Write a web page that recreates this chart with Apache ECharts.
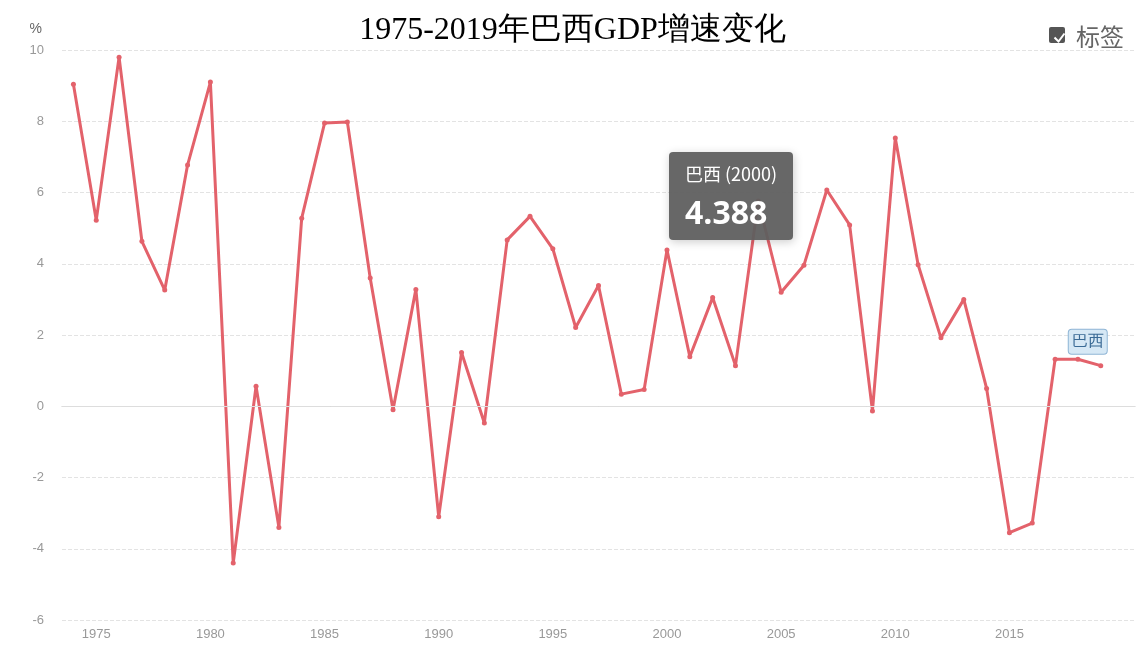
<!DOCTYPE html>
<html><head><meta charset="utf-8">
<script src="https://cdn.jsdelivr.net/npm/echarts@6/dist/echarts.min.js"></script>
<style>html,body{margin:0;padding:0;background:#fff}#c{width:1145px;height:669px}</style>
</head><body><div id="c"></div>
<script>
// 年份与巴西GDP增速(%)，坐标轴多留一年空位
var years = [];
for (var y = 1974; y <= 2020; y++) years.push(String(y));
var gdp = [9.04, 5.22, 9.8, 4.63, 3.26, 6.77, 9.1, -4.4, 0.56, -3.4,
  5.28, 7.95, 7.98, 3.6, -0.1, 3.28, -3.1, 1.51, -0.47, 4.67,
  5.33, 4.42, 2.21, 3.39, 0.34, 0.47, 4.388, 1.39, 3.05, 1.14,
  5.76, 3.2, 3.96, 6.07, 5.09, -0.13, 7.53, 3.97, 1.92, 3.0,
  0.5, -3.55, -3.28, 1.32, 1.32, 1.14];

var chart = echarts.init(document.getElementById('c'));
var option = {
  animation: false,
  title: {
    text: '1975-2019年巴西GDP增速变化',
    left: 'center', top: 10,
    textStyle: { fontFamily: 'serif', fontSize: 32, fontWeight: 'normal', color: '#000' }
  },
  grid: { left: 62, right: 10, top: 50, bottom: 49 },
  tooltip: {
    trigger: 'item',
    backgroundColor: 'rgba(95,95,95,0.95)',
    borderWidth: 0,
    padding: [6, 16, 4, 16],
    position: function () { return [669, 152]; },
    formatter: function (p) {
      return '<div style="color:#fff;font-size:18px;line-height:30px;font-family:Noto Sans CJK SC">巴西 (' + p.name + ')</div>' +
        '<div style="color:#fff;font-size:32px;line-height:48px;font-weight:bold;font-family:Open Sans">' + p.value + '</div>';
    }
  },
  xAxis: {
    type: 'category',
    data: years,
    axisLine: { lineStyle: { color: '#ccc' } },
    axisTick: { alignWithLabel: true, interval: function (i, v) { return v % 5 === 0; }, lineStyle: { color: '#ccc' } },
    axisLabel: { color: '#999', fontSize: 13, interval: function (i, v) { return v % 5 === 0 && v < 2020; } }
  },
  yAxis: {
    type: 'value', min: -6, max: 10, interval: 2,
    name: '%', nameLocation: 'end', nameGap: 14,
    nameTextStyle: { color: '#666', fontSize: 14, align: 'right', padding: [0, 20, 0, 0] },
    axisLabel: { color: '#999', fontSize: 13, margin: 18 },
    splitLine: { lineStyle: { type: 'dashed', color: '#e3e3e3' } }
  },
  series: [{
    name: '巴西', type: 'line', data: gdp,
    symbol: 'circle', symbolSize: 5,
    itemStyle: { color: '#e3626b' },
    lineStyle: { width: 3, color: '#e3626b' },
    emphasis: { scale: 1.6, itemStyle: { color: '#fff', borderColor: '#e3626b', borderWidth: 2 } },
    markLine: { silent: true, symbol: 'none', label: { show: false }, data: [{ yAxis: 0 }], lineStyle: { color: '#ddd', type: 'solid', width: 1 } },
    endLabel: {
      show: true, formatter: '巴西', color: '#3a6a95', fontSize: 16,
      backgroundColor: '#d6e8f5', borderColor: '#8fb5d5', borderWidth: 1, borderRadius: 3,
      padding: [4, 3], offset: [-40, -24]
    }
  }],
  graphic: [
    { type: 'rect', left: 1049, top: 27, shape: { width: 16, height: 16, r: 2 }, style: { fill: '#555' } },
    { type: 'polyline', left: 1052, top: 31, shape: { points: [[0, 4], [4, 8], [10, 0]] }, style: { stroke: '#fff', lineWidth: 2, fill: null } },
    { type: 'text', left: 1076, top: 25, style: { text: '标签', fontSize: 24, fill: '#666', fontFamily: 'Noto Sans CJK SC' } }
  ]
};
chart.setOption(option);
chart.dispatchAction({ type: 'showTip', seriesIndex: 0, dataIndex: 26 });
</script></body></html>
